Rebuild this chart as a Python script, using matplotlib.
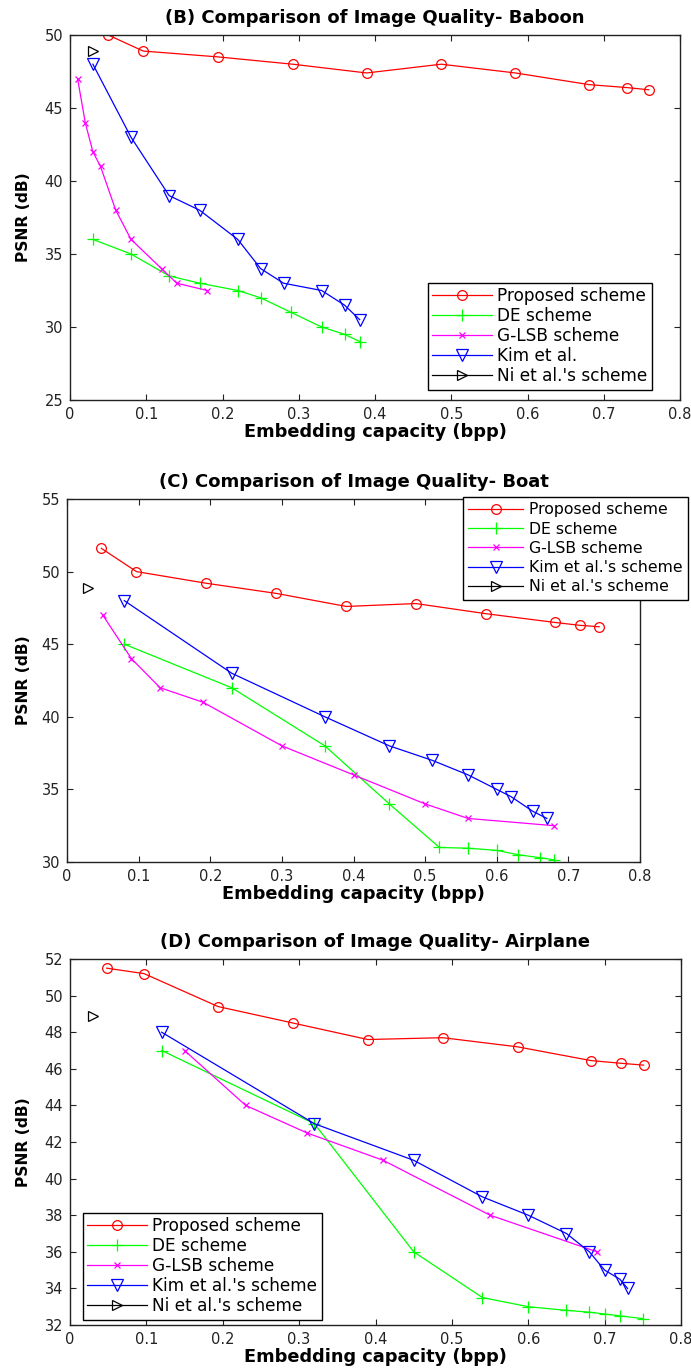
import matplotlib
matplotlib.use("Agg")
import matplotlib.pyplot as plt
from matplotlib.ticker import FixedLocator, FuncFormatter

plt.rcParams['font.family'] = ['DejaVu Sans']

# ---------------- data ----------------
x_ticks = [0, 0.1, 0.2, 0.3, 0.4, 0.5, 0.6, 0.7, 0.8]

# (B) Baboon
b_prop_x = [0.05, 0.096, 0.194, 0.292, 0.389, 0.487, 0.584, 0.681, 0.73, 0.759]
b_prop_y = [50.0, 48.9, 48.5, 48.0, 47.4, 48.0, 47.4, 46.6, 46.4, 46.25]
b_de_x = [0.03, 0.08, 0.13, 0.17, 0.22, 0.25, 0.29, 0.33, 0.36, 0.38]
b_de_y = [36.0, 35.0, 33.5, 33.0, 32.5, 32.0, 31.0, 30.0, 29.5, 29.0]
b_glsb_x = [0.01, 0.02, 0.03, 0.04, 0.06, 0.08, 0.12, 0.14, 0.18]
b_glsb_y = [47.0, 44.0, 42.0, 41.0, 38.0, 36.0, 34.0, 33.0, 32.5]
b_kim_x = [0.03, 0.08, 0.13, 0.17, 0.22, 0.25, 0.28, 0.33, 0.36, 0.38]
b_kim_y = [48.0, 43.0, 39.0, 38.0, 36.0, 34.0, 33.0, 32.5, 31.5, 30.5]
b_ni_x = [0.03]
b_ni_y = [48.9]
b_yticks = [25, 30, 35, 40, 45, 50]

# (C) Boat
c_prop_x = [0.048, 0.097, 0.194, 0.292, 0.39, 0.487, 0.585, 0.681, 0.716, 0.743]
c_prop_y = [51.6, 50.0, 49.2, 48.5, 47.6, 47.8, 47.1, 46.5, 46.3, 46.2]
c_de_x = [0.08, 0.23, 0.36, 0.45, 0.52, 0.56, 0.6, 0.63, 0.66, 0.68]
c_de_y = [45.0, 42.0, 38.0, 34.0, 31.0, 30.95, 30.8, 30.5, 30.3, 30.15]
c_glsb_x = [0.05, 0.09, 0.13, 0.19, 0.3, 0.4, 0.5, 0.56, 0.68]
c_glsb_y = [47.0, 44.0, 42.0, 41.0, 38.0, 36.0, 34.0, 33.0, 32.5]
c_kim_x = [0.08, 0.23, 0.36, 0.45, 0.51, 0.56, 0.6, 0.62, 0.65, 0.67]
c_kim_y = [48.0, 43.0, 40.0, 38.0, 37.0, 36.0, 35.0, 34.5, 33.5, 33.0]
c_ni_x = [0.03]
c_ni_y = [48.9]
c_yticks = [30, 35, 40, 45, 50, 55]

# (D) Airplane
d_prop_x = [0.048, 0.097, 0.194, 0.292, 0.39, 0.488, 0.586, 0.682, 0.722, 0.751]
d_prop_y = [51.5, 51.2, 49.4, 48.5, 47.6, 47.7, 47.2, 46.45, 46.3, 46.2]
d_de_x = [0.12, 0.32, 0.45, 0.54, 0.6, 0.65, 0.68, 0.7, 0.72, 0.75]
d_de_y = [47.0, 43.0, 36.0, 33.5, 33.0, 32.8, 32.7, 32.6, 32.5, 32.35]
d_glsb_x = [0.15, 0.23, 0.31, 0.41, 0.55, 0.69]
d_glsb_y = [47.0, 44.0, 42.5, 41.0, 38.0, 36.0]
d_kim_x = [0.12, 0.32, 0.45, 0.54, 0.6, 0.65, 0.68, 0.7, 0.72, 0.73]
d_kim_y = [48.0, 43.0, 41.0, 39.0, 38.0, 37.0, 36.0, 35.0, 34.5, 34.0]
d_ni_x = [0.03]
d_ni_y = [48.9]
d_yticks = [32, 34, 36, 38, 40, 42, 44, 46, 48, 50, 52]

labels_b = ["Proposed scheme", "DE scheme", "G-LSB scheme", "Kim et al.", "Ni et al.'s scheme"]
labels_cd = ["Proposed scheme", "DE scheme", "G-LSB scheme", "Kim et al.'s scheme", "Ni et al.'s scheme"]

titles = ["(B) Comparison of Image Quality- Baboon",
          "(C) Comparison of Image Quality- Boat",
          "(D) Comparison of Image Quality- Airplane"]
xlabel = "Embedding capacity (bpp)"
ylabel = "PSNR (dB)"

# ---------------- layout ----------------
W, H = 691, 1370
fig = plt.figure(figsize=(W / 100, H / 100), dpi=100)


def make_axes(l, t, r, b):
    return fig.add_axes([l / W, 1 - b / H, (r - l) / W, (b - t) / H])


styles = [
    dict(color=(1, 0, 0), marker='o', markersize=7, mfc='none'),
    dict(color=(0, 1, 0), marker='+', markersize=9),
    dict(color=(1, 0, 1), marker='x', markersize=4.5),
    dict(color=(0, 0, 1), marker='v', markersize=8, mfc='none'),
    dict(color=(0, 0, 0), marker='>', markersize=7, mfc='none'),
]


def fmt(v, pos):
    s = f"{v:.1f}"
    return "0" if abs(v) < 1e-9 else s


def panel(box, series, labels, ylim, yticks, title, leg_xy, leg_fs, leg_sp, leg_bp):
    ax = make_axes(*box)
    for (xs, ys), lab, st in zip(series, labels, styles):
        ax.plot(xs, ys, linewidth=0.9, markeredgewidth=0.9, label=lab, **st)
    ax.set_xlim(0, 0.8)
    ax.set_ylim(*ylim)
    ax.xaxis.set_major_locator(FixedLocator(x_ticks))
    ax.xaxis.set_major_formatter(FuncFormatter(fmt))
    ax.yaxis.set_major_locator(FixedLocator(yticks))
    ax.tick_params(direction='in', length=4.5, width=0.8, top=True, right=True,
                   labelsize=10.5, labelcolor='#222222', pad=5, color='#222222')
    for sp in ax.spines.values():
        sp.set_linewidth(1.0)
        sp.set_color('#222222')
    ax.set_title(title, fontsize=13, fontweight='bold', pad=8.6)
    ax.set_xlabel(xlabel, fontsize=12.8, fontweight='bold')
    ax.set_ylabel(ylabel, fontsize=11.2, fontweight='bold')
    hpx = box[3] - box[1]
    wpx = box[2] - box[0]
    ax.xaxis.set_label_coords(0.5, -32 / hpx)
    ax.xaxis.label.set_verticalalignment('center')
    ax.yaxis.set_label_coords((24 - box[0]) / wpx, 0.5)
    ax.yaxis.label.set_verticalalignment('center')
    leg = ax.legend(loc='upper left', bbox_to_anchor=(leg_xy[0] / W, 1 - leg_xy[1] / H),
                    bbox_transform=fig.transFigure, borderaxespad=0, numpoints=1,
                    fontsize=leg_fs, handlelength=3.5, handletextpad=0.35,
                    labelspacing=leg_sp, borderpad=leg_bp, fancybox=False, framealpha=1,
                    edgecolor='black')
    leg.get_frame().set_linewidth(1.0)
    return ax


panel((70, 35, 680, 400),
      [(b_prop_x, b_prop_y), (b_de_x, b_de_y), (b_glsb_x, b_glsb_y), (b_kim_x, b_kim_y), (b_ni_x, b_ni_y)],
      labels_b, (25, 50), b_yticks, titles[0], (428, 283), 12.2, 0.12, 0.25)
panel((67, 499, 640, 862),
      [(c_prop_x, c_prop_y), (c_de_x, c_de_y), (c_glsb_x, c_glsb_y), (c_kim_x, c_kim_y), (c_ni_x, c_ni_y)],
      labels_cd, (30, 55), c_yticks, titles[1], (463, 497), 11.3, 0.27, 0.35)
panel((70, 959, 681, 1325),
      [(d_prop_x, d_prop_y), (d_de_x, d_de_y), (d_glsb_x, d_glsb_y), (d_kim_x, d_kim_y), (d_ni_x, d_ni_y)],
      labels_cd, (32, 52), d_yticks, titles[2], (83, 1213), 12.2, 0.12, 0.25)

fig.savefig("out.png", dpi=100)
